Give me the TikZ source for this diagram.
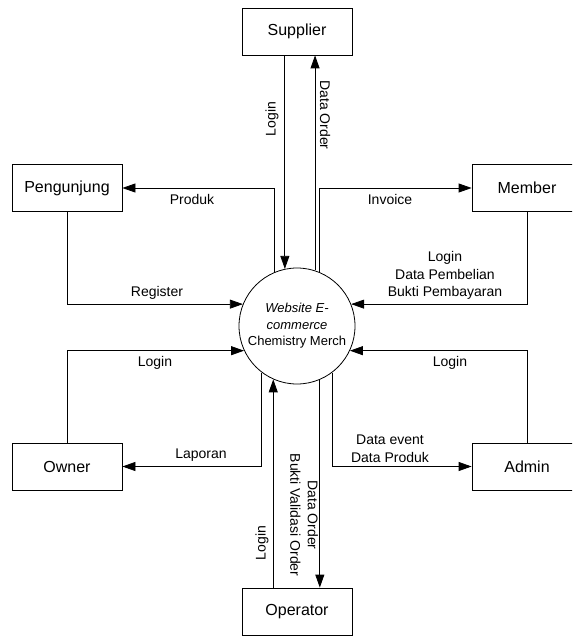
\documentclass[tikz,border=0pt]{standalone}
\usepackage{fontspec}
\setmainfont{Liberation Sans}
\usetikzlibrary{arrows.meta}
\begin{document}
\begin{tikzpicture}[x=1pt,y=-1pt,
  entity/.style={draw, line width=0.8pt, minimum width=110pt, minimum height=47pt,
    inner sep=0pt, font=\fontsize{16}{18}\selectfont},
  process/.style={draw, circle, line width=0.8pt, minimum size=116pt, inner sep=0pt,
    align=center, font=\fontsize{13}{16.5}\selectfont},
  flow/.style={line width=0.8pt, -{Triangle[length=13pt,width=9pt]}},
  lbl/.style={inner sep=0pt, align=center, font=\fontsize{14}{17.5}\selectfont}
]
\clip (0,0) rectangle (572,636);
\useasboundingbox (0,0) rectangle (572,636);

% external entities and the central process
\node[process] (web) at (297,326) {\textit{Website E-}\\\textit{commerce}\\Chemistry Merch};
\node[entity] (sup)   at (297,31.5)  {Supplier};
\node[entity] (peng)  at (67,188)    {Pengunjung};
\node[entity] (mem)   at (527,188)   {Member};
\node[entity] (owner) at (67,466.5)  {Owner};
\node[entity] (admin) at (527,466.5) {Admin};
\node[entity] (op)    at (297,611.5) {Operator};

% Supplier
\draw[flow] (sup.south -| web.102) -- (web.102);
\draw[flow] (web.72) -- (web.72 |- sup.south);
\node[lbl, rotate=90]  (lsup) at (272,119) {Login};
\node[lbl, rotate=-90] (dsup) at (325,115) {Data Order};

% Pengunjung
\draw[flow] (web.113) |- (peng.east);
\draw[flow] (peng.south) |- (web.158);
\node[lbl] (lprod) at (192,199) {Produk};
\node[lbl] (lreg)  at (157,293) {Register};

% Member
\draw[flow] (web.67) |- (mem.west);
\draw[flow] (mem.south) |- (web.22);
\node[lbl] (linv) at (390,199) {Invoice};
\node[lbl] (lmem) at (445,275.5) {Login\\Data Pembelian\\Bukti Pembayaran};

% Owner
\draw[flow] (owner.north) |- (web.205);
\draw[flow] (web.233) |- (owner.east);
\node[lbl] (lown) at (155,363) {Login};
\node[lbl] (llap) at (201,455) {Laporan};

% Admin
\draw[flow] (admin.north) |- (web.-25);
\draw[flow] (web.-53) |- (admin.west);
\node[lbl] (ladm) at (450,363) {Login};
\node[lbl] (ldat) at (390,448.5) {Data event\\Data Produk};

% Operator
\draw[flow] (op.north -| web.246) -- (web.246);
\draw[flow] (web.-67) -- (web.-67 |- op.north);
\node[lbl, rotate=90]  (lop) at (262,543) {Login};
\node[lbl, rotate=-90] (dop) at (304,515) {Data Order\\Bukti Validasi Order};
\end{tikzpicture}
\end{document}
